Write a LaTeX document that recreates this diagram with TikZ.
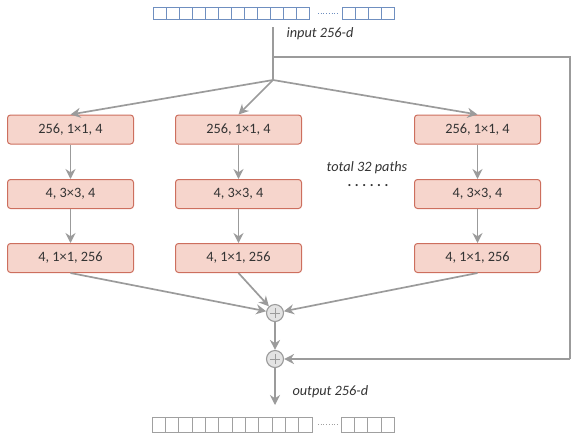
\documentclass[tikz,border=0pt]{standalone}
\usepackage{fontspec}
\setmainfont{Carlito}
\usetikzlibrary{arrows.meta}
\definecolor{boxfill}{HTML}{F6D5CC}
\definecolor{boxdraw}{HTML}{CD6F5E}
\definecolor{arrowgray}{HTML}{9B9B9B}
\definecolor{barblue}{HTML}{6F8FC0}
\definecolor{bargray}{HTML}{A0A0A0}
\definecolor{plusfill}{HTML}{E3E3E3}
\definecolor{txt}{HTML}{333333}
\begin{document}
\begin{tikzpicture}[x=1pt,y=-1pt,
 conv/.style={draw=boxdraw, fill=boxfill, rounded corners=3pt, minimum width=126pt, minimum height=29pt, inner sep=0pt, font=\fontsize{14.3}{16}\selectfont, text=txt, line width=1pt},
 arr/.style={draw=arrowgray, line width=1.7pt, -{Stealth[length=10pt,width=10pt]}},
 ln/.style={draw=arrowgray, line width=1.7pt},
 plusnode/.style={circle, draw=arrowgray, fill=plusfill, minimum size=17pt, inner sep=0pt, line width=1.1pt,
   path picture={\draw[arrowgray, line width=1pt]
     ([xshift=-5pt]path picture bounding box.center) -- ([xshift=5pt]path picture bounding box.center)
     ([yshift=-5pt]path picture bounding box.center) -- ([yshift=5pt]path picture bounding box.center);}},
 lbl/.style={font=\fontsize{14.3}{16}\selectfont\itshape, text=txt},
 cellblue/.style={draw=barblue, line width=0.9pt},
 cellgray/.style={draw=bargray, line width=0.9pt}
]
\useasboundingbox (0,0) rectangle (581,440);

% input bar
\foreach \i in {0,...,11} \draw[cellblue] (153+13*\i,7) rectangle ++(13,12);
\draw[barblue, dotted, line width=0.7pt] (318,13) -- (337,13);
\foreach \i in {0,...,3} \draw[cellblue] (342+13*\i,7) rectangle ++(13,12);

% output bar
\foreach \i in {0,...,11} \draw[cellgray] (152+13.33*\i,417) rectangle ++(13.33,15);
\draw[bargray, dotted, line width=0.7pt] (318,424.5) -- (337,424.5);
\foreach \i in {0,...,3} \draw[cellgray] (341+13.33*\i,417) rectangle ++(13.33,15);

% coordinates
\coordinate (inTop) at (273,27);
\coordinate (skip) at (273,57);
\coordinate (br) at (273,80);
\coordinate (c1) at (570,57);
\coordinate (c2) at (570,359);
\coordinate (outEnd) at (275,405);

% boxes
\node[conv] (a1) at (70.5,129.5) {256, 1×1, 4};
\node[conv] (a2) at (70.5,194) {4, 3×3, 4};
\node[conv] (a3) at (70.5,258) {4, 1×1, 256};
\node[conv] (b1) at (238.5,129.5) {256, 1×1, 4};
\node[conv] (b2) at (238.5,194) {4, 3×3, 4};
\node[conv] (b3) at (238.5,258) {4, 1×1, 256};
\node[conv] (c1b) at (477.5,129.5) {256, 1×1, 4};
\node[conv] (c2b) at (477.5,194) {4, 3×3, 4};
\node[conv] (c3b) at (477.5,258) {4, 1×1, 256};

% plus nodes
\node[plusnode] (p1) at (275,313) {};
\node[plusnode] (p2) at (275,359) {};

% labels
\node[lbl, anchor=west] (inlbl) at (283,34) {input 256-d};
\node[lbl, anchor=west] (outlbl) at (289,392) {output 256-d};
\node[lbl] (total) at (367,168) {total 32 paths};
\node[font=\fontsize{14.3}{16}\selectfont\bfseries\addfontfeature{LetterSpace=25}, text=txt, inner sep=0pt] (dots) at (368,186) {......};

% connectors
\draw[ln] (inTop) -- (br);
\draw[ln] (skip) -- (c1) -- (c2);
\draw[arr] (c2) -- (p2);
\draw[arr] (br) -- (a1.north);
\draw[arr] (br) -- (b1.north);
\draw[arr] (br) -- (c1b.north);
\draw[arr] (a1) -- (a2);
\draw[arr] (a2) -- (a3);
\draw[arr] (b1) -- (b2);
\draw[arr] (b2) -- (b3);
\draw[arr] (c1b) -- (c2b);
\draw[arr] (c2b) -- (c3b);
\draw[arr] (a3.south) -- (p1);
\draw[arr] (b3.south) -- (p1);
\draw[arr] (c3b.south) -- (p1);
\draw[arr] (p1) -- (p2);
\draw[arr] (p2) -- (outEnd);
\end{tikzpicture}
\end{document}
